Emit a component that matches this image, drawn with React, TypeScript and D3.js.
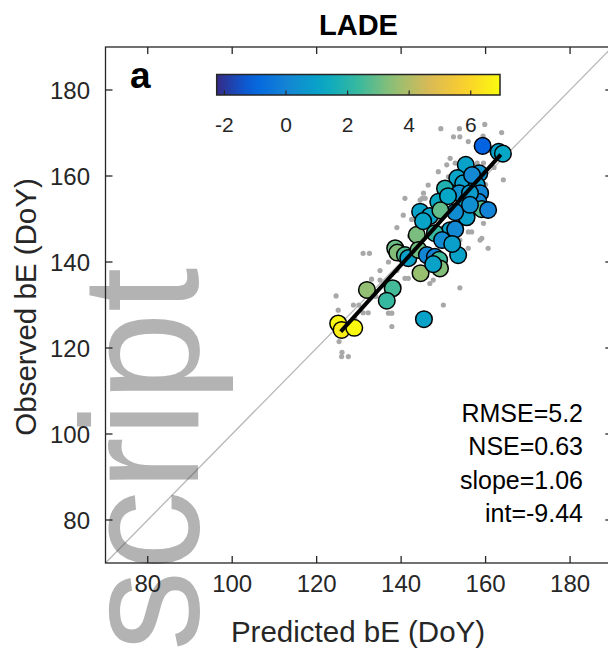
import React from "react";
import * as d3 from "d3";

const W = 608;
const H = 652;

// axes
const axisDomain: [number, number] = [70, 190];
const axisTicks = [80, 100, 120, 140, 160, 180];
const cbarDomain: [number, number] = [-2.25, 6.95];
const cbarTicks = [-2, 0, 2, 4, 6];

// statistics text
const statLines = ["RMSE=5.2", "NSE=0.63", "slope=1.06", "int=-9.44"];
const fitSlope = 1.06;
const fitInt = -9.44;
const fitRange: [number, number] = [125.7, 163.6];

// gray dots: [predicted, observed]
const grayX = [149.4, 153.8, 159.8, 163.8, 152.4, 153.9, 155.9, 159.4, 151.6, 152.8, 148.8, 164.2, 146.4, 145.3, 140.9, 144.5, 145.0, 140.5, 142.5, 159.5, 155.9, 156.7, 159.1, 153.9, 148.8, 139.0, 131.0, 132.5, 158.7, 160.6, 155.9, 153.5, 149.2, 135.0, 140.9, 141.7, 146.8, 147.6, 153.9, 124.6, 128.7, 131.0, 132.2, 137.0, 137.8, 150.0, 125.1, 137.8, 125.9, 127.5, 151.2, 145.7, 148.4, 159.5, 150.8, 151.2, 135, 137, 142, 144, 147, 150, 152, 156, 158, 161, 133, 129, 127, 130, 134, 139, 143, 146, 150, 154, 157, 160, 162, 125.3, 126.0];
const grayY = [171.0, 171.0, 172.0, 170.1, 169.1, 169.1, 168.0, 169.3, 164.1, 163.0, 161.0, 159.1, 157.9, 156.0, 154.8, 154.4, 154.8, 150.9, 149.9, 149.0, 147.0, 147.0, 145.5, 145.1, 144.7, 148.0, 142.0, 142.0, 145.1, 143.2, 143.2, 145.1, 144.3, 135.8, 136.2, 136.2, 135.0, 135.8, 134.0, 132.1, 130.0, 128.2, 128.2, 128.1, 128.1, 130.0, 128.8, 125.0, 118.0, 118.0, 159.8, 154.8, 150.2, 163.0, 162.6, 144.3, 138, 140, 146, 150, 152, 156, 158, 161, 163, 166, 136, 127, 125, 130, 132, 138, 140, 143, 148, 150, 152, 158, 162, 121.5, 119.0];

// coloured circles: predicted, observed, colour value
const ptX = [159.3, 163.1, 164.1, 155.3, 158.5, 153.3, 154.7, 150.4, 157.9, 158.7, 153.8, 148.8, 155.5, 158.3, 159.1, 160.6, 144.5, 146.8, 155.5, 152.8, 151.6, 152.8, 143.7, 148.0, 138.6, 139.1, 140.9, 141.7, 144.1, 146.1, 148.0, 149.0, 153.5, 149.2, 144.6, 131.9, 138.0, 136.6, 145.4, 125.1, 125.9, 128.9, 145.2, 151.1, 156.3, 156.8, 149.7, 152.1, 147.6, 156.3, 149.3];
const ptY = [167.0, 165.6, 165.2, 162.6, 160.6, 159.5, 158.3, 157.1, 157.9, 156.0, 156.0, 154.0, 154.0, 154.0, 152.3, 152.1, 151.7, 150.7, 150.4, 151.6, 147.4, 147.6, 146.3, 146.7, 143.2, 142.2, 141.6, 140.9, 142.8, 141.6, 141.2, 140.5, 141.6, 138.5, 137.4, 133.5, 133.9, 131.0, 126.7, 125.7, 124.2, 124.7, 149.5, 155.3, 156.0, 160.2, 145.1, 144.2, 139.5, 153.3, 152.0];
const ptV = [-1.1, 1.0, 1.2, 1.0, 0.6, 1.1, 0.9, 1.8, 0.8, 0.1, 0.5, 1.3, 0.9, 0.2, 2.7, 0.0, 1.0, 1.1, 0.9, 0.3, 1.0, 0.2, 3.2, 2.3, 3.0, 3.3, 2.6, 1.0, 3.1, 0.1, 0.0, 2.4, 1.0, 3.3, 3.6, 3.5, 2.5, 2.3, 1.0, 6.8, 6.6, 6.9, 1.1, 1.2, 0.8, 0.2, 0.3, 0.9, 1.0, 0.4, 2.9];

const parulaStops = ["#352A87", "#0363E1", "#1485D4", "#06A7C6", "#38B99E", "#92BF73", "#D9BA56", "#FCCE2E", "#F9FB0E"];

const FONT = "'Liberation Sans', Arial, Helvetica, sans-serif";
const AX = "#262626";

export default function App() {
  const x = d3.scaleLinear().domain(axisDomain).range([105.5, 612.3]);
  const y = d3.scaleLinear().domain(axisDomain).range([563, 47]);
  const parula = d3.scaleLinear<string>()
    .domain(parulaStops.map((_, i) => i / (parulaStops.length - 1)))
    .range(parulaStops)
    .interpolate(d3.interpolateRgb);
  const cnorm = d3.scaleLinear().domain(cbarDomain).range([0, 1]).clamp(true);
  const color = (v: number) => parula(cnorm(v));

  const cbX = d3.scaleLinear().domain(cbarDomain).range([216.7, 500]);
  const cbTop = 74.5;
  const cbH = 20.5;

  const [x0, x1] = x.range();
  const [yB, yT] = y.range();
  const tickLen = 7;

  const gradStops = d3.range(0, 1.0001, 0.05);

  return (
    <svg width={W} height={H} style={{ position: "absolute", left: 0, top: 0, background: "#fff" }} fontFamily={FONT}>
      <defs>
        <linearGradient id="parula" x1="0" x2="1" y1="0" y2="0">
          {gradStops.map((t, i) => (
            <stop key={i} offset={t} stopColor={parula(t)} />
          ))}
        </linearGradient>
        <clipPath id="plotclip">
          <rect x={x0} y={yT} width={x1 - x0} height={yB - yT} />
        </clipPath>
      </defs>
      <rect width={W} height={H} fill="#fff" />

      {/* watermark */}
      <text transform={`translate(198,651) rotate(-90) scale(0.955,1)`} fontSize={168} fill="#b3b3b3" fontFamily={FONT}>
        script
      </text>

      {/* 1:1 line, dots, circles, fit */}
      <g clipPath="url(#plotclip)">
        <line x1={x(70)} y1={y(70)} x2={x(190)} y2={y(190)} stroke="#4a4a4a" strokeOpacity={0.4} strokeWidth={1.3} />
        {grayX.map((gx, i) => (
          <circle key={"g" + i} cx={x(gx)} cy={y(grayY[i])} r={2.6} fill="#a8a8a8" />
        ))}
        {ptX.map((px, i) => (
          <circle key={"p" + i} cx={x(px)} cy={y(ptY[i])} r={8.3} fill={color(ptV[i])} stroke="#000" strokeWidth={1.5} />
        ))}
        <line
          x1={x(fitRange[0])}
          y1={y(fitSlope * fitRange[0] + fitInt)}
          x2={x(fitRange[1])}
          y2={y(fitSlope * fitRange[1] + fitInt + 1)}
          stroke="#000"
          strokeWidth={4}
        />
      </g>

      {/* axes box */}
      <rect x={x0} y={yT} width={x1 - x0} height={yB - yT} fill="none" stroke={AX} strokeWidth={1.3} />
      {axisTicks.map((t) => (
        <g key={"t" + t} stroke={AX} strokeWidth={1.3}>
          <line x1={x(t)} x2={x(t)} y1={yB} y2={yB - tickLen} />
          <line x1={x(t)} x2={x(t)} y1={yT} y2={yT + tickLen} />
          <line x1={x0} x2={x0 + tickLen} y1={y(t)} y2={y(t)} />
          <line x1={x1} x2={x1 - tickLen} y1={y(t)} y2={y(t)} />
        </g>
      ))}
      {axisTicks.map((t) => (
        <text key={"xl" + t} x={x(t)} y={592} textAnchor="middle" fontSize={24} fill={AX}>
          {t}
        </text>
      ))}
      {axisTicks.map((t) => (
        <text key={"yl" + t} x={90} y={y(t) + 8.5} textAnchor="end" fontSize={24} fill={AX}>
          {t}
        </text>
      ))}

      {/* axis titles */}
      <text x={358} y={642} textAnchor="middle" fontSize={29.5} fill={AX}>
        Predicted bE (DoY)
      </text>
      <text transform={`translate(36,307) rotate(-90)`} textAnchor="middle" fontSize={29.5} fill={AX}>
        Observed bE (DoY)
      </text>
      <text x={358.5} y={35} textAnchor="middle" fontSize={29} fontWeight="bold" fill="#000">
        LADE
      </text>

      {/* panel letter */}
      <text x={130} y={88} fontSize={37} fontWeight="bold" fill="#000">
        a
      </text>

      {/* colorbar */}
      <rect x={cbX(cbarDomain[0])} y={cbTop} width={cbX(cbarDomain[1]) - cbX(cbarDomain[0])} height={cbH} fill="url(#parula)" stroke={AX} strokeWidth={1.5} />
      {cbarTicks.map((t) => (
        <g key={"cb" + t}>
          <line x1={cbX(t)} x2={cbX(t)} y1={cbTop + cbH} y2={cbTop + cbH - 4.5} stroke={AX} strokeWidth={1.2} />
          <text x={cbX(t)} y={131.5} textAnchor="middle" fontSize={21} fill={AX}>
            {t}
          </text>
        </g>
      ))}

      {/* statistics */}
      {statLines.map((s, i) => (
        <text key={s} x={583} y={421.5 + i * 33.6} textAnchor="end" fontSize={25} fill="#000">
          {s}
        </text>
      ))}
    </svg>
  );
}
